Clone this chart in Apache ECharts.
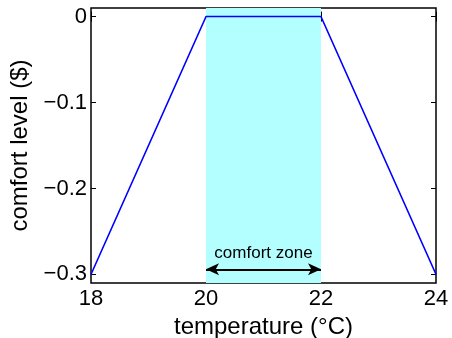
<!DOCTYPE html>
<html>
<head>
<meta charset="utf-8">
<script src="https://cdn.jsdelivr.net/npm/echarts@6/dist/echarts.min.js"></script>
<style>
  html, body { margin: 0; padding: 0; background: #fff; }
  #chart { width: 452px; height: 338px; }
</style>
</head>
<body>
<div id="chart"></div>
<script>
// comfort curve
var temps = [18, 20, 22, 24];
var comfort = [-0.3, 0, 0, -0.3];
// comfort zone band and arrow
var zone = [20, 22];
var arrowLevel = -0.294;
var zoneLabel = "comfort zone";
// ticks
var xTicks = [18, 20, 22, 24];
var yTicks = [-0.3, -0.2, -0.1, 0];
var yTickLabels = ["\u22120.3", "\u22120.2", "\u22120.1", "0"];

var font = "Liberation Sans, Arial, Helvetica, sans-serif";

var myChart = echarts.init(document.getElementById("chart"));

var tickStyle = { show: true, inside: true, length: 5, lineStyle: { color: "#000", width: 1 } };

var option = {
  animation: false,
  textStyle: { fontFamily: font },
  grid: {
    left: 91, right: 16, top: 8, bottom: 55,
    outerBoundsMode: "none", containLabel: false,
    show: true, borderColor: "#000", borderWidth: 1.5, backgroundColor: "transparent"
  },
  xAxis: [
    {
      type: "value", min: 18, max: 24, interval: 2, position: "bottom",
      name: "temperature (\u00b0C)", nameLocation: "middle", nameGap: 24,
      nameTextStyle: { fontSize: 24, color: "#000", fontFamily: font },
      axisLine: { show: false },
      axisTick: tickStyle,
      splitLine: { show: false },
      axisLabel: { fontSize: 22, color: "#000", margin: 5, fontFamily: font,
        customValues: xTicks }
    },
    {
      type: "value", min: 18, max: 24, interval: 2, position: "top",
      axisLine: { show: false }, axisTick: tickStyle,
      axisLabel: { show: false }, splitLine: { show: false }
    }
  ],
  yAxis: [
    {
      type: "value", min: -0.31, max: 0.01, position: "left",
      name: "comfort level ($)", nameLocation: "middle", nameGap: 58,
      nameTextStyle: { fontSize: 24, color: "#000", fontFamily: font },
      axisLine: { show: false },
      axisTick: { show: true, inside: true, length: 5, lineStyle: { color: "#000" }, customValues: yTicks },
      splitLine: { show: false },
      axisLabel: {
        fontSize: 22, color: "#000", margin: 4, fontFamily: font,
        customValues: yTicks,
        formatter: function (v) {
          for (var i = 0; i < yTicks.length; i++) {
            if (Math.abs(yTicks[i] - v) < 1e-6) return yTickLabels[i];
          }
          return "";
        }
      }
    },
    {
      type: "value", min: -0.31, max: 0.01, position: "right",
      axisLine: { show: false },
      axisTick: { show: true, inside: true, length: 5, lineStyle: { color: "#000" }, customValues: yTicks },
      axisLabel: { show: false }, splitLine: { show: false }
    }
  ],
  series: [
    {
      type: "line",
      data: temps.map(function (t, i) { return [t, comfort[i]]; }),
      showSymbol: false,
      lineStyle: { color: "#0000ff", width: 1.5 },
      z: 3,
      markArea: {
        silent: true,
        itemStyle: { color: "#b3ffff" },
        data: [[{ xAxis: zone[0] }, { xAxis: zone[1] }]]
      },
      markLine: {
        silent: true,
        symbol: ["arrow", "arrow"],
        symbolSize: [9, 13],
        lineStyle: { color: "#000", width: 2, type: "solid" },
        label: {
          show: true, position: "insideMiddleTop", formatter: zoneLabel,
          fontSize: 17, color: "#000", fontFamily: font, distance: 7
        },
        data: [[{ coord: [zone[0], arrowLevel] }, { coord: [zone[1], arrowLevel] }]]
      }
    }
  ]
};

myChart.setOption(option);
</script>
</body>
</html>
